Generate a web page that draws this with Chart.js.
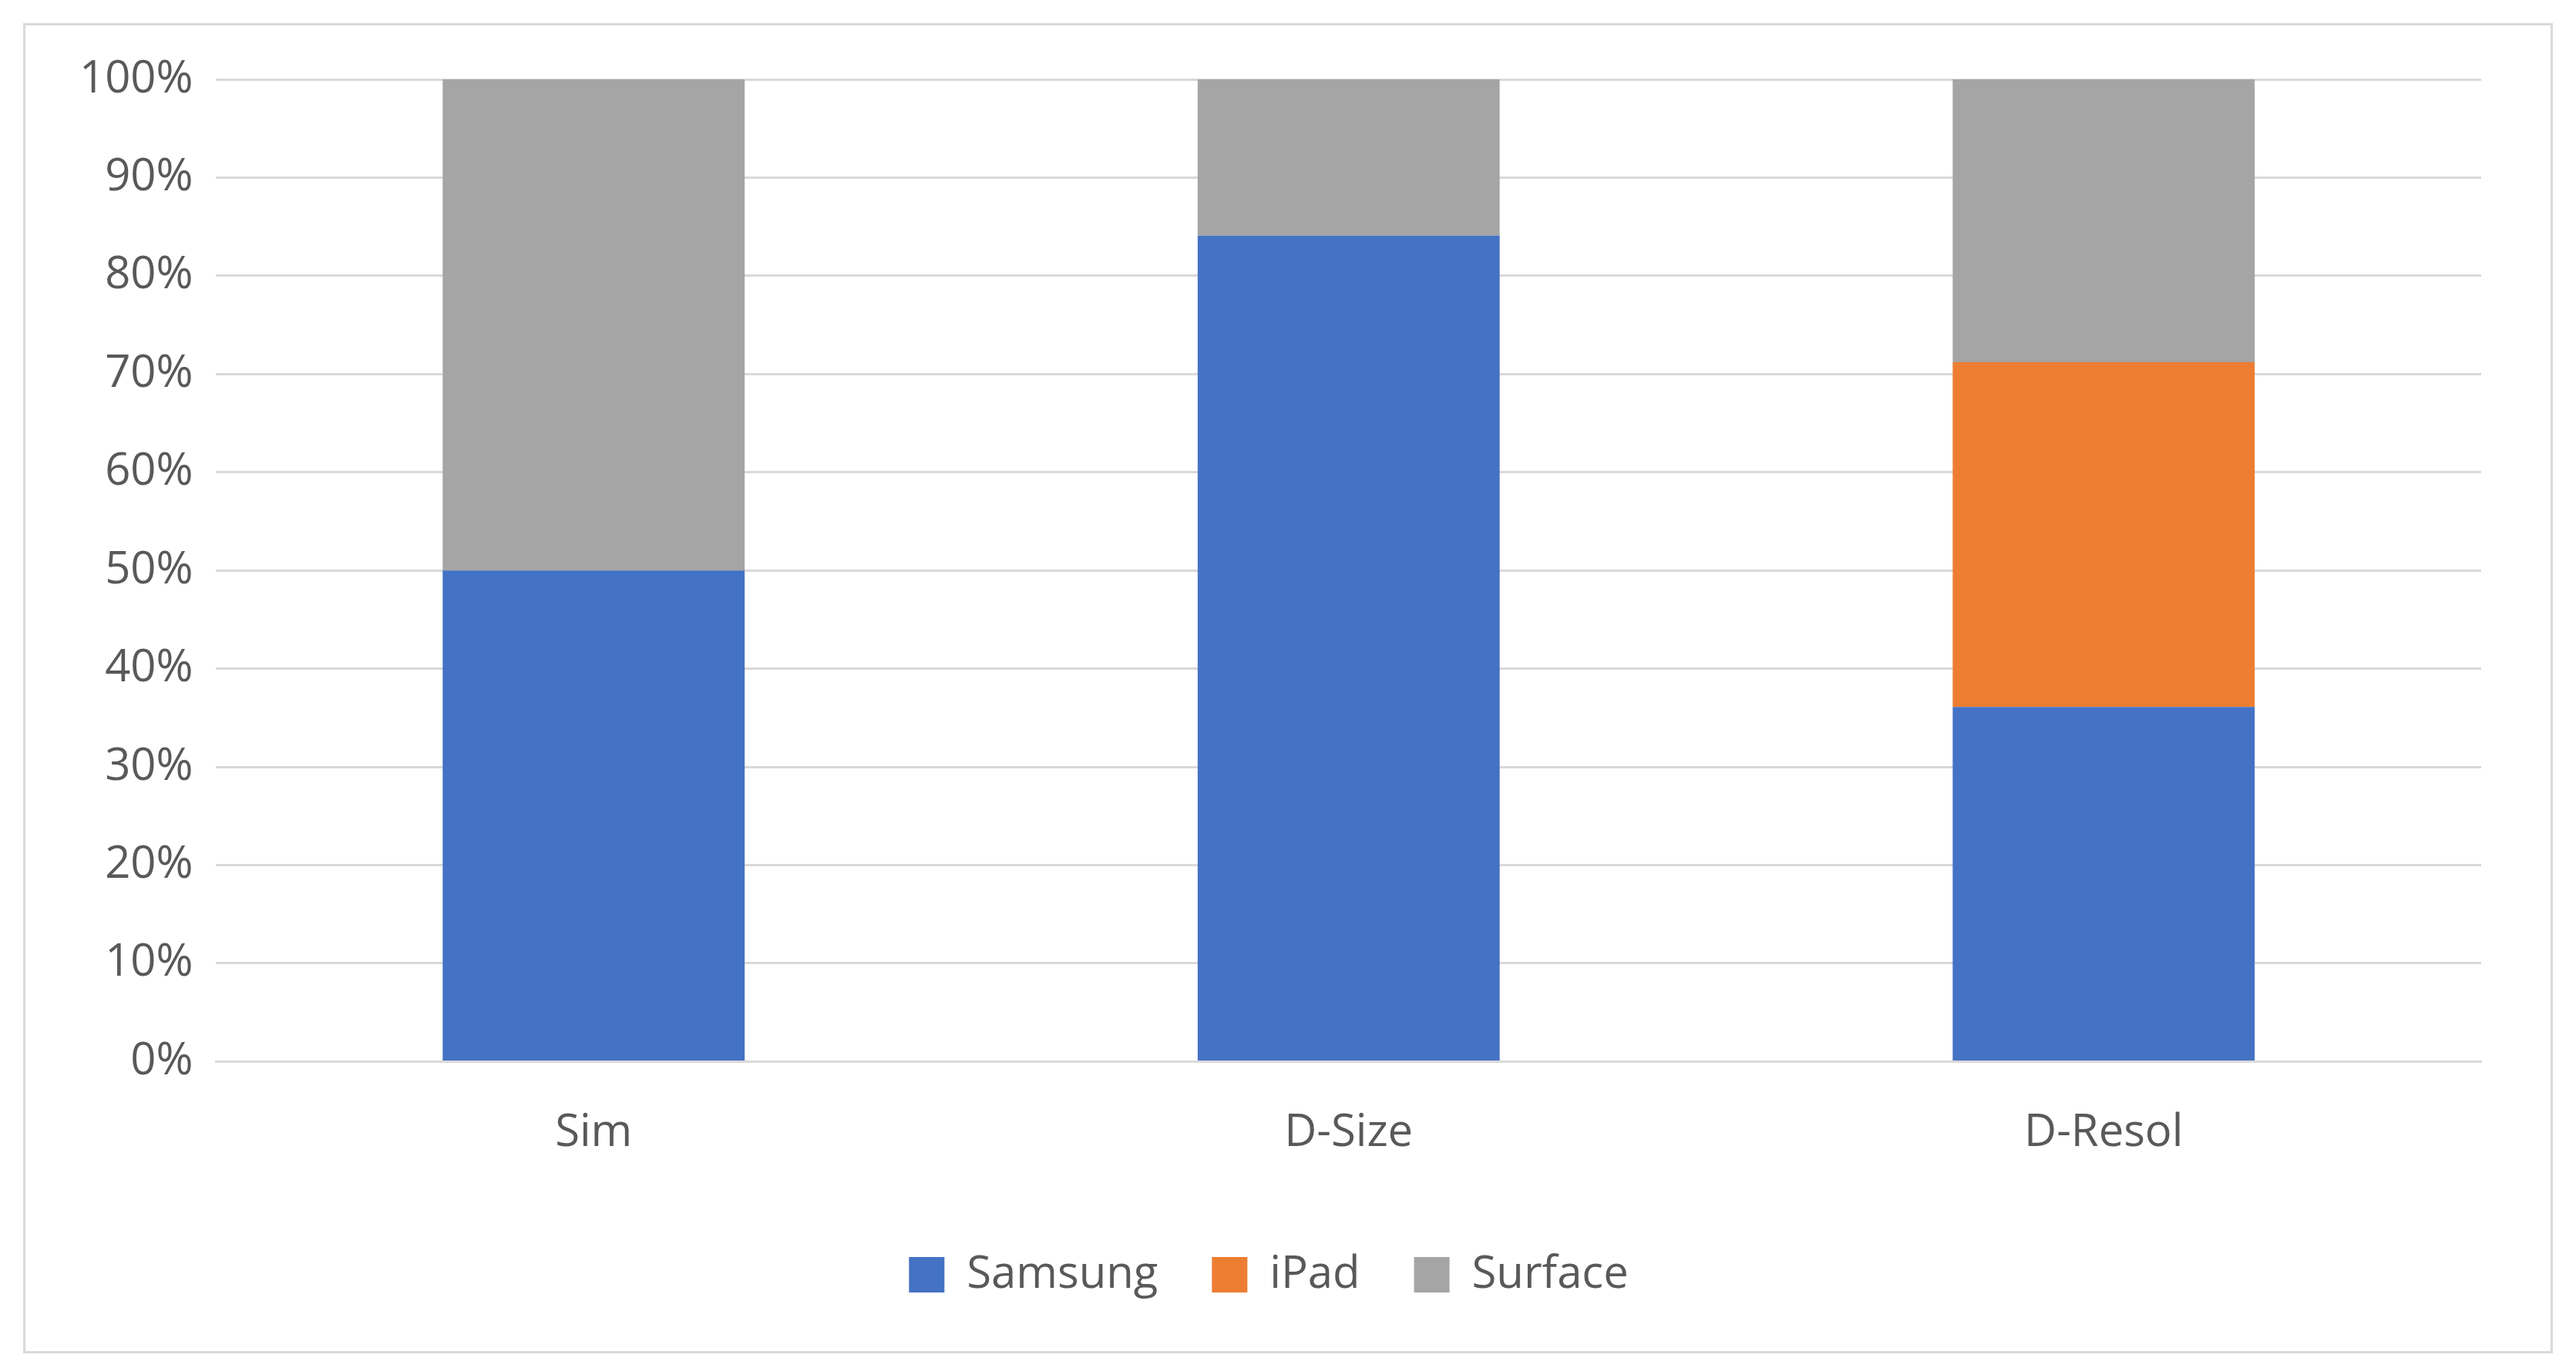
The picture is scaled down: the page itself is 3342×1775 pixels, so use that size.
<!DOCTYPE html>
<html><head><script src="https://cdn.jsdelivr.net/npm/chart.js@4"></script>
<style>html,body{margin:0;background:#fff}#box{position:absolute;left:30px;top:30px;width:3276px;height:1720px;border:3px solid #d9d9d9}</style></head>
<body><div id="box"><canvas id="c"></canvas></div>
<script>
const categories=["Sim","D-Size","D-Resol"];
const samsung=[50,84.1,36.1];
const ipad=[0,0,35.1];
const surface=[50,15.9,28.8];
const yTicks=[0,10,20,30,40,50,60,70,80,90,100];
const ds=(l,d,c)=>({label:l,data:d,backgroundColor:c,categoryPercentage:1,barPercentage:0.4});
new Chart(document.getElementById('c'),{type:'bar',
data:{labels:categories,datasets:[ds('Samsung',samsung,'#4472c4'),ds('iPad',ipad,'#ed7d31'),ds('Surface',surface,'#a5a5a5')]},
options:{responsive:true,maintainAspectRatio:false,animation:false,
layout:{padding:{left:40,right:90,top:70,bottom:60}},
font:{family:'Open Sans'},
plugins:{tooltip:{enabled:false},legend:{position:'bottom',labels:{font:{size:58,family:'Open Sans'},color:'#595959',boxWidth:46,boxHeight:46,padding:70}}},
scales:{x:{stacked:true,grid:{display:false},border:{color:'#d9d9d9',width:3},ticks:{font:{size:58,family:'Open Sans'},color:'#595959',padding:50}},
y:{stacked:true,min:0,max:100,afterBuildTicks:a=>{a.ticks=yTicks.map(v=>({value:v}))},grid:{color:'#d9d9d9',lineWidth:3,drawTicks:false},border:{display:false},
ticks:{font:{size:58,family:'Open Sans'},color:'#595959',padding:30,callback:v=>v+'%'}}}}});
</script></body></html>
